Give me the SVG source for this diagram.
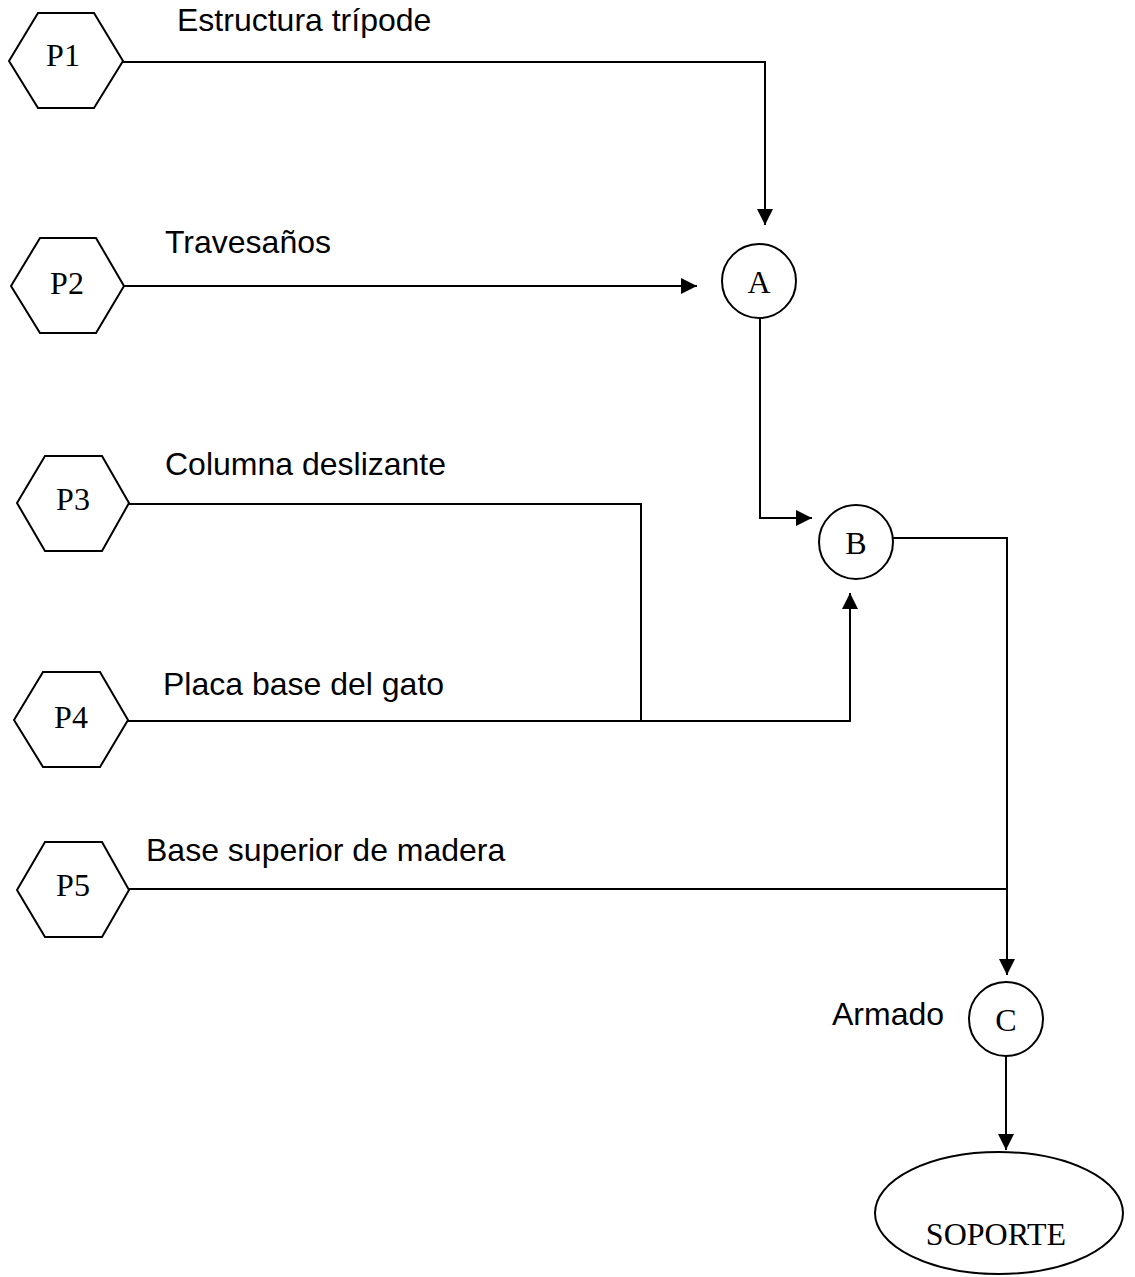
<svg xmlns="http://www.w3.org/2000/svg" width="1135" height="1277" viewBox="0 0 1135 1277">
  <style>
    .shape { fill: #ffffff; stroke: #000000; stroke-width: 2; }
    .wire { fill: none; stroke: #000000; stroke-width: 2; }
    .id { font-family: "Liberation Serif", "Times New Roman", serif; font-size: 32px; fill: #000000; text-anchor: middle; }
    .label { font-family: "Liberation Sans", Arial, sans-serif; font-size: 32px; fill: #000000; }
  </style>
  <defs>
    <marker id="arrow" markerUnits="userSpaceOnUse" markerWidth="16" markerHeight="16" refX="16" refY="8" orient="auto">
      <path d="M0,0 L16,8 L0,16 z" fill="#000000"/>
    </marker>
  </defs>
  <rect width="1135" height="1277" fill="#ffffff"/>

  <!-- connectors -->
  <g id="connectors">
    <polyline class="wire" points="123,62 765,62 765,225" marker-end="url(#arrow)"/>
    <line class="wire" x1="124" y1="286" x2="697" y2="286" marker-end="url(#arrow)"/>
    <polyline class="wire" points="760,318 760,518 812,518" marker-end="url(#arrow)"/>
    <polyline class="wire" points="129,504 641,504 641,721"/>
    <polyline class="wire" points="128,721 850,721 850,593" marker-end="url(#arrow)"/>
    <polyline class="wire" points="893,538 1007,538 1007,975" marker-end="url(#arrow)"/>
    <line class="wire" x1="129" y1="889" x2="1007" y2="889"/>
    <line class="wire" x1="1006" y1="1056" x2="1006" y2="1150" marker-end="url(#arrow)"/>
  </g>

  <!-- parts -->
  <g id="p1">
    <polygon class="shape" points="9,61 38,13 94,13 123,61 94,108 38,108"/>
    <text class="id" x="63" y="66">P1</text>
    <text class="label" x="177" y="31">Estructura trípode</text>
  </g>
  <g id="p2">
    <polygon class="shape" points="11,286 40,238 96,238 124,286 96,333 40,333"/>
    <text class="id" x="67" y="294">P2</text>
    <text class="label" x="165" y="253">Travesaños</text>
  </g>
  <g id="p3">
    <polygon class="shape" points="17,503 45,456 102,456 129,503 102,551 45,551"/>
    <text class="id" x="73" y="510">P3</text>
    <text class="label" x="165" y="475">Columna deslizante</text>
  </g>
  <g id="p4">
    <polygon class="shape" points="14,720 43,672 100,672 128,720 100,767 43,767"/>
    <text class="id" x="71" y="728">P4</text>
    <text class="label" x="163" y="695">Placa base del gato</text>
  </g>
  <g id="p5">
    <polygon class="shape" points="17,890 45,842 102,842 129,890 102,937 45,937"/>
    <text class="id" x="73" y="896">P5</text>
    <text class="label" x="146" y="861">Base superior de madera</text>
  </g>

  <!-- assembly operations -->
  <g id="a">
    <circle class="shape" cx="759" cy="281" r="37"/>
    <text class="id" x="759" y="293">A</text>
  </g>
  <g id="b">
    <circle class="shape" cx="856" cy="542" r="37"/>
    <text class="id" x="856" y="554">B</text>
  </g>
  <g id="c">
    <circle class="shape" cx="1006" cy="1019" r="37"/>
    <text class="id" x="1006" y="1031">C</text>
    <text class="label" x="832" y="1025">Armado</text>
  </g>

  <!-- finished product -->
  <g id="soporte">
    <ellipse class="shape" cx="999" cy="1213" rx="124" ry="61"/>
    <text class="id" x="996" y="1245">SOPORTE</text>
  </g>
</svg>
